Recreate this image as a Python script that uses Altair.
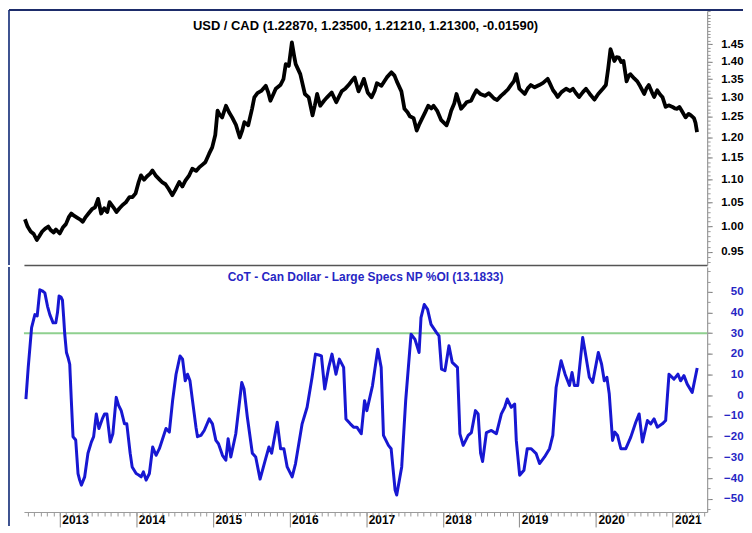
import altair as alt
import numpy as np
import pandas as pd

# ---------------- data ----------------
usd_t = [2012.545, 2012.58, 2012.62, 2012.66, 2012.70, 2012.73, 2012.77, 2012.81, 2012.85, 2012.88,
         2012.92, 2012.95, 2013.00, 2013.04, 2013.08, 2013.12, 2013.15, 2013.19, 2013.23, 2013.27,
         2013.30, 2013.34, 2013.38, 2013.42, 2013.46, 2013.50, 2013.54, 2013.58, 2013.62, 2013.65,
         2013.70, 2013.74, 2013.78, 2013.82, 2013.86, 2013.91, 2013.95, 2013.99, 2014.03, 2014.06,
         2014.10, 2014.14, 2014.18, 2014.21, 2014.25, 2014.30, 2014.34, 2014.38, 2014.42, 2014.47,
         2014.51, 2014.56, 2014.60, 2014.64, 2014.69, 2014.73, 2014.78, 2014.82, 2014.86, 2014.90,
         2014.95, 2014.99, 2015.03, 2015.06, 2015.09, 2015.12, 2015.17, 2015.21, 2015.25, 2015.30,
         2015.35, 2015.38, 2015.41, 2015.46, 2015.51, 2015.54, 2015.58, 2015.63, 2015.69, 2015.72,
         2015.75, 2015.79, 2015.82, 2015.88, 2015.92, 2015.95, 2015.99, 2016.03, 2016.06, 2016.08,
         2016.14, 2016.20, 2016.25, 2016.30, 2016.33, 2016.36, 2016.40, 2016.45, 2016.49, 2016.55,
         2016.61, 2016.65, 2016.68, 2016.73, 2016.77, 2016.81, 2016.85, 2016.90, 2016.94, 2016.97,
         2017.02, 2017.07, 2017.11, 2017.14, 2017.20, 2017.24, 2017.27, 2017.33, 2017.37, 2017.40,
         2017.46, 2017.50, 2017.54, 2017.57, 2017.62, 2017.66, 2017.69, 2017.72, 2017.77, 2017.81,
         2017.85, 2017.88, 2017.93, 2017.98, 2018.05, 2018.08, 2018.11, 2018.15, 2018.18, 2018.21,
         2018.24, 2018.28, 2018.31, 2018.37, 2018.40, 2018.44, 2018.49, 2018.55, 2018.60, 2018.63,
         2018.67, 2018.71, 2018.76, 2018.81, 2018.85, 2018.89, 2018.93, 2018.96, 2019.00, 2019.03,
         2019.07, 2019.11, 2019.15, 2019.20, 2019.26, 2019.31, 2019.37, 2019.40, 2019.44, 2019.47,
         2019.50, 2019.55, 2019.61, 2019.66, 2019.70, 2019.74, 2019.78, 2019.83, 2019.87, 2019.92,
         2019.98, 2020.03, 2020.09, 2020.13, 2020.16, 2020.19, 2020.22, 2020.24, 2020.27, 2020.30,
         2020.33, 2020.36, 2020.40, 2020.43, 2020.45, 2020.50, 2020.54, 2020.58, 2020.63, 2020.66,
         2020.69, 2020.73, 2020.76, 2020.80, 2020.84, 2020.87, 2020.91, 2020.95, 2021.00, 2021.03,
         2021.06, 2021.09, 2021.12, 2021.17, 2021.21, 2021.24, 2021.28, 2021.30, 2021.32]
usd_v = [1.015, 1.000, 0.990, 0.985, 0.973, 0.980, 0.990, 0.996, 1.000, 0.993,
         0.988, 0.994, 0.986, 0.998, 1.005, 1.020, 1.027, 1.022, 1.018, 1.014,
         1.010, 1.020, 1.028, 1.036, 1.040, 1.058, 1.027, 1.038, 1.030, 1.051,
         1.040, 1.030, 1.038, 1.045, 1.050, 1.062, 1.062, 1.070, 1.095, 1.110,
         1.100, 1.108, 1.114, 1.121, 1.110, 1.101, 1.094, 1.090, 1.080, 1.066,
         1.078, 1.095, 1.085, 1.098, 1.110, 1.125, 1.120, 1.128, 1.134, 1.140,
         1.160, 1.175, 1.205, 1.266, 1.255, 1.249, 1.279, 1.262, 1.249, 1.230,
         1.199, 1.215, 1.237, 1.229, 1.271, 1.301, 1.312, 1.318, 1.332, 1.315,
         1.292, 1.310, 1.324, 1.334, 1.350, 1.392, 1.387, 1.455, 1.415, 1.392,
         1.364, 1.310, 1.301, 1.254, 1.280, 1.310, 1.279, 1.292, 1.301, 1.314,
         1.288, 1.305, 1.317, 1.325, 1.334, 1.345, 1.355, 1.317, 1.335, 1.351,
         1.314, 1.301, 1.318, 1.339, 1.332, 1.345, 1.355, 1.369, 1.360, 1.344,
         1.317, 1.271, 1.262, 1.252, 1.247, 1.216, 1.230, 1.242, 1.262, 1.279,
         1.272, 1.279, 1.265, 1.242, 1.229, 1.245, 1.266, 1.285, 1.310, 1.290,
         1.271, 1.280, 1.288, 1.292, 1.305, 1.320, 1.310, 1.305, 1.312, 1.306,
         1.298, 1.294, 1.305, 1.314, 1.322, 1.334, 1.345, 1.364, 1.324, 1.318,
         1.310, 1.325, 1.334, 1.328, 1.334, 1.340, 1.351, 1.338, 1.320, 1.312,
         1.302, 1.315, 1.324, 1.318, 1.324, 1.312, 1.302, 1.315, 1.324, 1.310,
         1.295, 1.310, 1.324, 1.334, 1.380, 1.435, 1.415, 1.401, 1.412, 1.411,
         1.398, 1.401, 1.344, 1.360, 1.364, 1.352, 1.344, 1.330, 1.310, 1.325,
         1.334, 1.315, 1.302, 1.320, 1.308, 1.301, 1.276, 1.280, 1.276, 1.272,
         1.271, 1.276, 1.266, 1.249, 1.258, 1.254, 1.247, 1.235, 1.212]

cot_t = [2012.558, 2012.588, 2012.632, 2012.675, 2012.705, 2012.740, 2012.770, 2012.805, 2012.840, 2012.870,
         2012.913, 2012.948, 2012.970, 2012.991, 2013.015, 2013.035, 2013.050, 2013.065, 2013.087, 2013.110,
         2013.130, 2013.150, 2013.173, 2013.208, 2013.238, 2013.260, 2013.282, 2013.325, 2013.368, 2013.412,
         2013.442, 2013.477, 2013.511, 2013.555, 2013.585, 2013.615, 2013.659, 2013.693, 2013.737, 2013.767,
         2013.802, 2013.845, 2013.875, 2013.919, 2013.945, 2013.997, 2014.030, 2014.062, 2014.092, 2014.127,
         2014.170, 2014.213, 2014.257, 2014.300, 2014.343, 2014.387, 2014.430, 2014.473, 2014.518, 2014.570,
         2014.603, 2014.638, 2014.668, 2014.700, 2014.733, 2014.778, 2014.798, 2014.843, 2014.886, 2014.951,
         2014.993, 2015.038, 2015.072, 2015.124, 2015.168, 2015.198, 2015.233, 2015.298, 2015.376, 2015.406,
         2015.449, 2015.514, 2015.558, 2015.615, 2015.688, 2015.731, 2015.766, 2015.839, 2015.883, 2015.926,
         2015.969, 2016.034, 2016.078, 2016.164, 2016.229, 2016.294, 2016.338, 2016.381, 2016.416, 2016.459,
         2016.511, 2016.554, 2016.606, 2016.650, 2016.706, 2016.736, 2016.793, 2016.836, 2016.879, 2016.936,
         2016.979, 2017.009, 2017.083, 2017.152, 2017.196, 2017.226, 2017.291, 2017.326, 2017.378, 2017.399,
         2017.464, 2017.516, 2017.586, 2017.638, 2017.691, 2017.716, 2017.759, 2017.802, 2017.847, 2017.919,
         2017.951, 2017.984, 2018.029, 2018.081, 2018.124, 2018.192, 2018.224, 2018.267, 2018.332, 2018.374,
         2018.427, 2018.462, 2018.494, 2018.520, 2018.570, 2018.635, 2018.700, 2018.765, 2018.809, 2018.843,
         2018.895, 2018.939, 2018.960, 2019.004, 2019.060, 2019.103, 2019.155, 2019.220, 2019.264, 2019.329,
         2019.394, 2019.437, 2019.480, 2019.545, 2019.597, 2019.654, 2019.688, 2019.719, 2019.762, 2019.827,
         2019.857, 2019.914, 2019.957, 2020.031, 2020.074, 2020.109, 2020.143, 2020.174, 2020.217, 2020.247,
         2020.282, 2020.325, 2020.390, 2020.455, 2020.520, 2020.564, 2020.607, 2020.672, 2020.715, 2020.759,
         2020.802, 2020.867, 2020.910, 2020.954, 2021.019, 2021.071, 2021.105, 2021.149, 2021.192, 2021.257,
         2021.322]
cot_v = [-1.8, 13.5, 32.7, 39.0, 38.3, 51.0, 50.5, 49.5, 43.0, 39.0,
         35.0, 35.0, 40.0, 48.0, 47.5, 46.0, 38.0, 29.5, 20.7, 18.0,
         15.0, -2.0, -20.0, -21.6, -37.8, -41.0, -43.4, -39.4, -28.0, -22.6,
         -20.0, -9.0, -16.0, -11.4, -9.0, -9.0, -22.6, -18.6, -1.0, -4.8,
         -7.4, -13.8, -13.8, -28.0, -34.6, -37.8, -38.5, -39.4, -37.0, -41.0,
         -37.8, -25.0, -29.0, -25.8, -21.0, -16.0, -17.8, -2.6, 10.2, 19.0,
         17.5, 7.0, 10.2, 7.0, -2.6, -15.4, -20.0, -19.4, -17.0, -11.4,
         -13.8, -21.8, -23.4, -29.0, -31.4, -21.0, -29.8, -18.6, 6.2, 3.0,
         -10.6, -28.0, -29.8, -40.5, -30.6, -25.0, -28.0, -13.0, -25.8, -25.8,
         -34.6, -39.4, -33.0, -13.8, -5.8, 8.7, 19.9, 19.5, 19.0, 3.0,
         13.5, 19.9, 10.2, 17.5, 13.5, -11.4, -13.8, -15.4, -15.4, -18.6,
         -2.6, -7.4, 4.7, 22.3, 13.5, -19.4, -24.2, -25.8, -45.8, -48.2,
         -34.6, -2.6, 29.5, 27.0, 20.7, 37.5, 43.9, 41.5, 34.3, 30.3,
         28.7, 12.6, 11.9, 23.9, 15.9, 13.5, -18.6, -24.2, -19.4, -18.0,
         -7.4, -9.0, -28.0, -32.0, -18.0, -17.0, -18.6, -9.0, -5.8, -1.8,
         -5.8, -4.2, -21.8, -38.6, -36.2, -25.8, -25.8, -28.2, -33.0, -29.8,
         -25.8, -19.4, 3.8, 16.7, 10.2, 4.7, 11.0, 4.7, 4.7, 27.9,
         21.5, 8.7, 6.2, 20.7, 15.0, 7.0, 8.7, 0.6, -21.8, -17.8,
         -19.4, -25.8, -25.8, -20.2, -13.0, -9.0, -22.6, -12.2, -13.8, -11.4,
         -15.4, -13.8, -12.2, 10.2, 7.8, 10.2, 7.0, 9.5, 5.4, 1.4,
         13.2]

years = [2013, 2014, 2015, 2016, 2017, 2018, 2019, 2020, 2021]
usd_ticks = [0.95, 1.00, 1.05, 1.10, 1.15, 1.20, 1.25, 1.30, 1.35, 1.40, 1.45]
cot_ticks = [-50, -40, -30, -20, -10, 0, 10, 20, 30, 40, 50]
threshold = [30]
usd_title = "USD / CAD (1.22870, 1.23500, 1.21210, 1.21300, -0.01590)"
cot_title = "CoT - Can Dollar - Large Specs NP %OI (13.1833)"

assert len(usd_t) == len(usd_v)
assert len(cot_t) == len(cot_v)

# ---------------- layout / style ----------------
FONT = "Liberation Sans"
BLUE = "#1717d2"
LABEL_BLUE = "#2626c4"
W, H1, H2 = 686, 255, 246
XDOM = [2012.532, 2021.452]
YDOM1 = [0.9247, 1.551]
YDOM2 = [-56.4, 62.0]

usd_minor = [round(v, 2) for v in np.arange(0.93, 1.555, 0.01)]
cot_minor = list(range(-55, 61, 5))
month_ticks = [round(y + m / 12, 4) for y in range(2012, 2022) for m in range(12)
               if XDOM[0] <= y + m / 12 <= XDOM[1]]

df_usd = pd.DataFrame({"t": usd_t, "v": usd_v})
df_cot = pd.DataFrame({"t": cot_t, "v": cot_v})
df_thr = pd.DataFrame({"level": threshold})
df_t1 = pd.DataFrame({"label": [usd_title]})
df_t2 = pd.DataFrame({"label": [cot_title]})
df_one = pd.DataFrame({"a": [0]})

xs = alt.Scale(domain=XDOM, nice=False, zero=False)
ys1 = alt.Scale(type="log", domain=YDOM1, nice=False, zero=False)
ys2 = alt.Scale(domain=YDOM2, nice=False, zero=False)

def y_major(values, fmt, color):
    return alt.Axis(orient="right", values=values, format=fmt, tickSize=5, tickColor="#777",
                    domainColor="#9a9a9a", domainWidth=1.2, labelFont=FONT, labelFontSize=11.5,
                    labelFontWeight="bold", labelColor=color, labelAlign="right",
                    labelBaseline="middle", labelPadding=31, labelOverlap=False,
                    labelBound=False, grid=False, title=None)

def y_minor(values):
    return alt.Axis(orient="right", values=values, labels=False, tickSize=3, tickColor="#999",
                    domain=False, grid=False, title=None)

FRAME_L = "#3e5290"
FRAME_T = "#1d2c6a"

# ---------------- top panel ----------------
frame_left1 = alt.Chart(df_one).mark_rule(color=FRAME_L, strokeWidth=2).encode(
    x=alt.value(-15), y=alt.value(-1), y2=alt.value(H1))
frame_top = alt.Chart(df_one).mark_rule(color=FRAME_T, strokeWidth=2).encode(
    x=alt.value(-15), x2=alt.value(W + 36), y=alt.value(-1))

usd_line = alt.Chart(df_usd).mark_line(color="black", strokeWidth=3.8, strokeJoin="round").encode(
    x=alt.X("t:Q", scale=xs, axis=alt.Axis(orient="bottom", ticks=False, labels=False, grid=False,
                                           title=None, domainColor="#555", domainWidth=1.5)),
    y=alt.Y("v:Q", scale=ys1, axis=y_major(usd_ticks, ".2f", "black")))
usd_dummy = alt.Chart(df_usd).mark_line(opacity=0).encode(
    x=alt.X("t:Q", scale=xs, axis=None),
    y=alt.Y("v:Q", scale=ys1, axis=y_minor(usd_minor)))
usd_text = alt.Chart(df_t1).mark_text(font=FONT, fontSize=13, fontWeight="bold", color="black",
                                      align="center", baseline="middle").encode(
    x=alt.value(W / 2), y=alt.value(15), text="label:N")

top = alt.layer(frame_left1, frame_top, usd_line, usd_dummy, usd_text).resolve_axis(
    x="independent", y="independent").properties(width=W, height=H1)

# ---------------- bottom panel ----------------
frame_left2 = alt.Chart(df_one).mark_rule(color=FRAME_L, strokeWidth=2).encode(
    x=alt.value(-15), y=alt.value(0), y2=alt.value(H2 + 14))
thr_rule = alt.Chart(df_thr).mark_rule(color="#8fd08f", strokeWidth=2).encode(
    y=alt.Y("level:Q", scale=ys2, axis=None))
cot_line = alt.Chart(df_cot).mark_line(color=BLUE, strokeWidth=3, strokeJoin="round").encode(
    x=alt.X("t:Q", scale=xs, axis=alt.Axis(orient="bottom", values=years, format="d", tickSize=15,
                                           tickColor="#888", domainColor="#9a9a9a",
                                           labelFont=FONT, labelFontSize=12, labelFontWeight="bold",
                                           labelColor="black", labelAlign="left", labelBaseline="top",
                                           labelPadding=-12, labelOffset=2, labelOverlap=False,
                                           labelBound=False, labelFlush=False, grid=False, title=None)),
    y=alt.Y("v:Q", scale=ys2, axis=y_major(cot_ticks, "d", LABEL_BLUE)))
cot_dummy = alt.Chart(df_cot).mark_line(opacity=0).encode(
    x=alt.X("t:Q", scale=xs, axis=alt.Axis(orient="bottom", values=month_ticks, labels=False,
                                           tickSize=4, tickColor="#999", domain=False, grid=False,
                                           title=None)),
    y=alt.Y("v:Q", scale=ys2, axis=y_minor(cot_minor)))
cot_text = alt.Chart(df_t2).mark_text(font=FONT, fontSize=12, fontWeight="bold", color=LABEL_BLUE,
                                      align="center", baseline="middle").encode(
    x=alt.value(W / 2), y=alt.value(10), text="label:N")

bottom = alt.layer(frame_left2, thr_rule, cot_line, cot_dummy, cot_text).resolve_axis(
    x="independent", y="independent").properties(width=W, height=H2)

chart = alt.vconcat(top, bottom, spacing=0).properties(
    padding={"left": 0, "top": 0, "right": 0, "bottom": 0}, background="white"
).configure_view(stroke=None)

chart.save("out.html", embed_options={"renderer": "svg", "actions": False})
